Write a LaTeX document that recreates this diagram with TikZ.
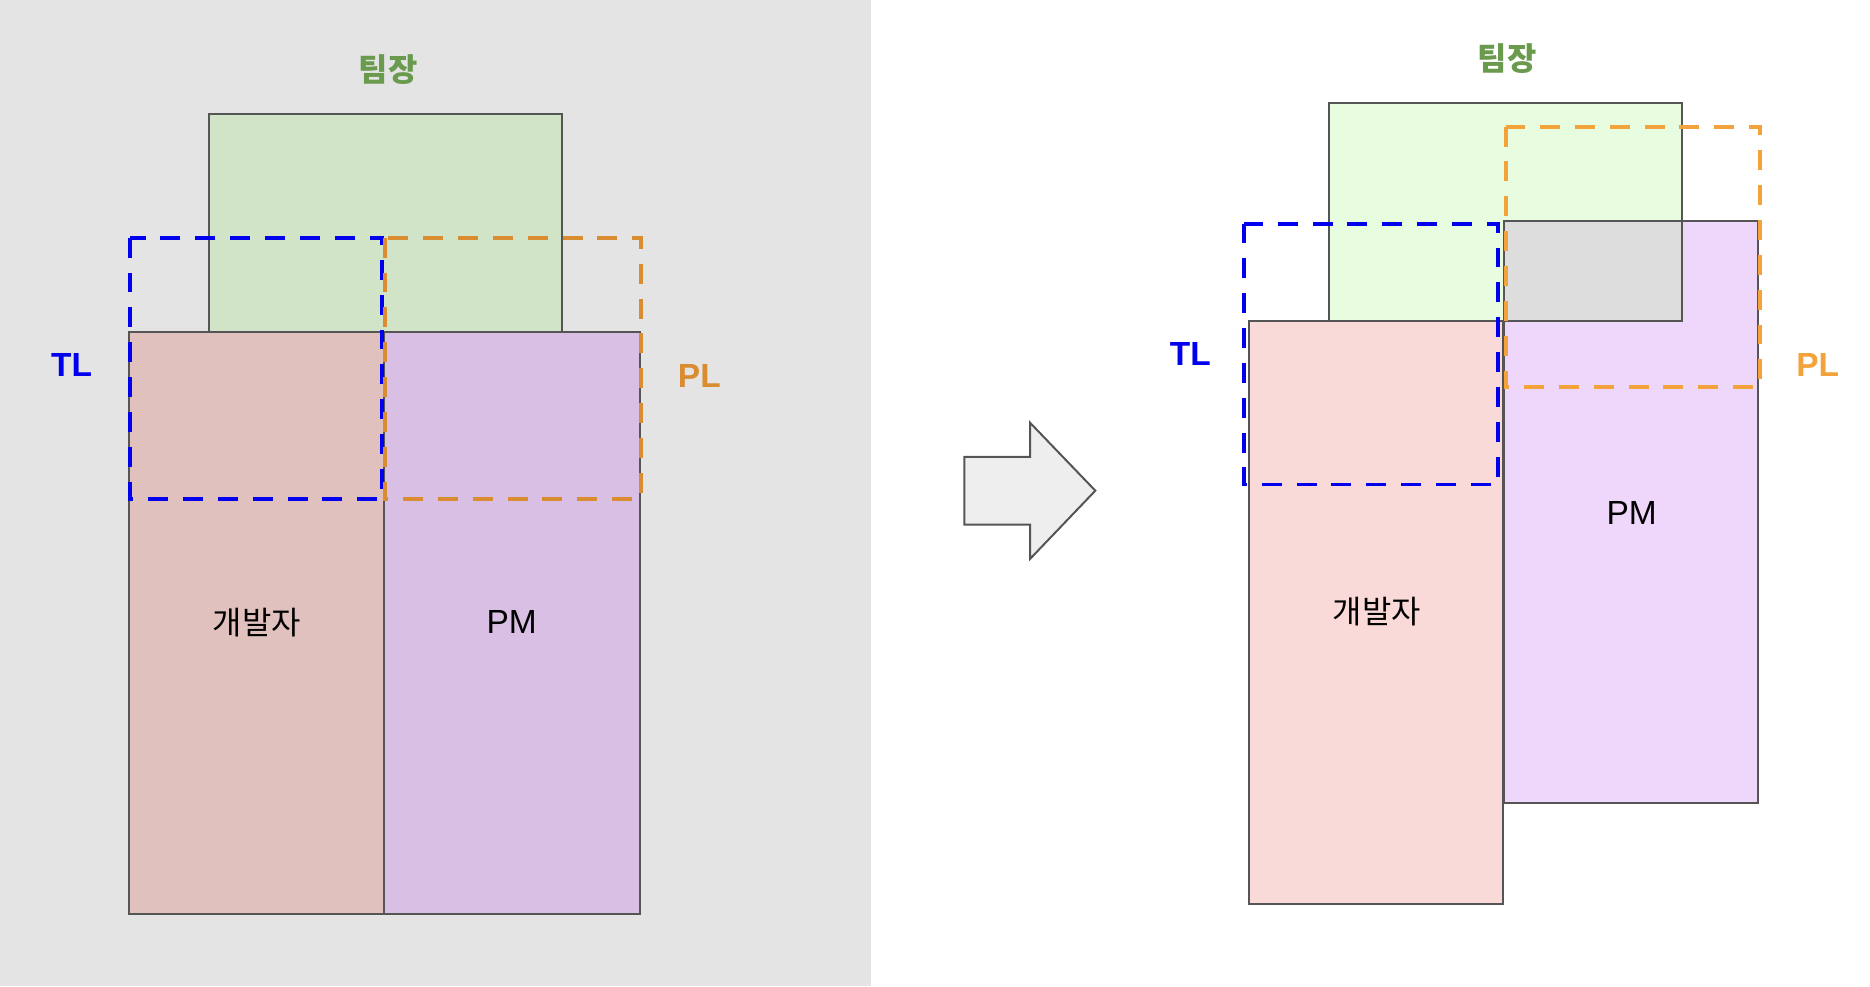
\documentclass[tikz,border=0pt]{standalone}
\usepackage{fontspec}
\setmainfont{Liberation Sans}
\newfontfamily\krfont{Noto Sans CJK KR}
\usepackage{xcolor}
\usetikzlibrary{calc}

\definecolor{bgGray}{HTML}{E4E4E4}
\definecolor{edgeGray}{HTML}{555555}
\definecolor{leadGreenA}{HTML}{D2E4C8}
\definecolor{devRedA}{HTML}{E0C1BE}
\definecolor{pmPurpleA}{HTML}{D8BFE3}
\definecolor{leadGreenB}{HTML}{E8FDE0}
\definecolor{devRedB}{HTML}{FADAD8}
\definecolor{pmPurpleB}{HTML}{EFD7FC}
\definecolor{overlapGray}{HTML}{DDDDDD}
\definecolor{tlBlue}{HTML}{0000EE}
\definecolor{plOrangeA}{HTML}{D98C30}
\definecolor{plOrangeB}{HTML}{F3A33B}
\definecolor{leadText}{HTML}{6A9A4E}
\definecolor{arrowGray}{HTML}{EEEEEE}

\begin{document}
\begin{tikzpicture}[x=0.5pt, y=-0.5pt,
	box/.style={draw=edgeGray, line width=1pt},
	lens/.style={line width=2pt, dash pattern=on 10pt off 7.5pt},
	rolelabel/.style={font=\fontsize{16.8}{20}\selectfont\bfseries},
	boxlabel/.style={font=\fontsize{16.8}{20}\selectfont},
	leadlabel/.style={font=\fontsize{16}{19}\selectfont\krfont\bfseries, text=leadText},
	devlabel/.style={font=\fontsize{16}{19}\selectfont\krfont}]
	\useasboundingbox (0,0) rectangle (1878.5,990.5);
	% before
	\fill[bgGray] (0,0) rectangle (875,990.5);
	\fill[leadGreenA, box] (210,114.4) rectangle (565,333.2);
	\fill[devRedA, box] (130,333.2) rectangle (386,918.5);
	\fill[pmPurpleA, box] (386,333.2) rectangle (642.5,918.5);
	\draw[tlBlue, lens] (131,238.8) rectangle (384,500.9);
	\draw[plOrangeA, lens] (387,238.8) rectangle (644,500.9);
	\node[leadlabel] (leadA) at (390,69.6) {팀장};
	\node[rolelabel, tlBlue] (tlA) at (72,367) {TL};
	\node[rolelabel, plOrangeA] (plA) at (702.5,377.5) {PL};
	\node[devlabel] (devA) at (258,625.3) {개발자};
	\node[boxlabel] (pmA) at (514,625.3) {PM};
	% arrow
	\filldraw[fill=arrowGray, box] (968.7,459) -- (1034.7,459) -- (1034.7,424.6) -- (1100.3,492.9) -- (1034.7,561.5) -- (1034.7,527) -- (968.7,527) -- cycle;
	% after
	\fill[leadGreenB] (1334.7,103.5) rectangle (1689.6,322.4);
	\fill[pmPurpleB] (1511.1,221.7) rectangle (1766.3,806.7);
	\fill[overlapGray] (1511.1,221.7) rectangle (1689.6,322.4);
	\draw[box] (1334.7,103.5) rectangle (1689.6,322.4);
	\draw[box] (1511.1,221.7) rectangle (1766.3,806.7);
	\fill[devRedB, box] (1254.3,322.4) rectangle (1509.5,907.9);
	\draw[tlBlue, lens] (1249.6,224.6) rectangle (1504.5,486.7);
	\draw[plOrangeB, lens] (1512.5,127.2) rectangle (1768.3,388.7);
	\node[leadlabel] (leadB) at (1514,58.5) {팀장};
	\node[rolelabel, tlBlue] (tlB) at (1195.7,355.9) {TL};
	\node[rolelabel, plOrangeB] (plB) at (1826,366.5) {PL};
	\node[devlabel] (devB) at (1383,614.4) {개발자};
	\node[boxlabel] (pmB) at (1639,515.1) {PM};
\end{tikzpicture}
\end{document}
